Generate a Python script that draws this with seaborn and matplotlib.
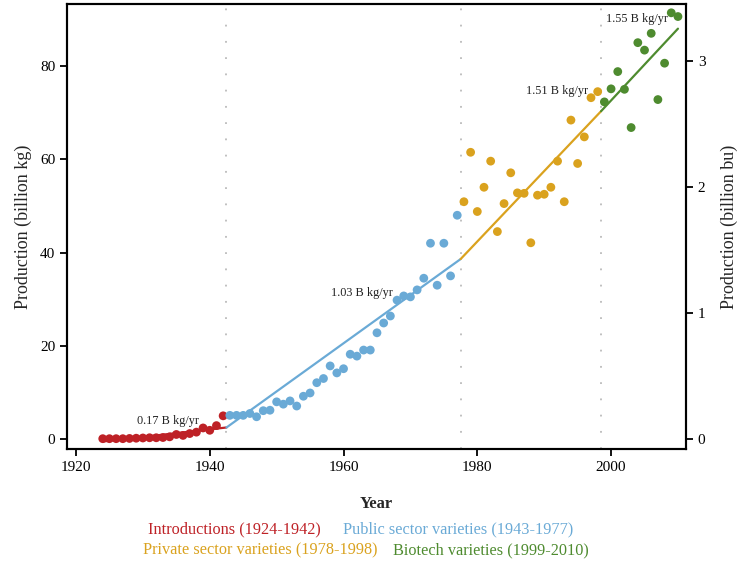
import numpy as np
import pandas as pd
import matplotlib
matplotlib.use("Agg")
import matplotlib.pyplot as plt
import seaborn as sns

# ---- data ----
intro_years = list(range(1924, 1943))
intro_values = [0.1, 0.1, 0.1, 0.1, 0.15, 0.2, 0.25, 0.3, 0.3, 0.35, 0.5, 1.0, 0.8, 1.2,
                1.5, 2.4, 1.9, 2.9, 5.0]

public_years = list(range(1943, 1978))
public_values = [5.1, 5.1, 5.1, 5.5, 4.8, 6.1, 6.2, 8.0, 7.5, 8.2, 7.1, 9.2, 9.9, 12.1,
                 13.0, 15.7, 14.2, 15.1, 18.2, 17.8, 19.1, 19.1, 22.8, 24.9, 26.4, 29.8,
                 30.7, 30.5, 32.0, 34.5, 42.0, 33.0, 42.0, 35.0, 48.0]

private_years = list(range(1978, 1999))
private_values = [50.9, 61.5, 48.8, 54.0, 59.6, 44.5, 50.5, 57.1, 52.8, 52.7, 42.1, 52.3,
                  52.5, 54.0, 59.6, 50.9, 68.4, 59.1, 64.8, 73.2, 74.5]

biotech_years = list(range(1999, 2011))
biotech_values = [72.3, 75.1, 78.8, 75.0, 66.8, 85.0, 83.4, 87.0, 72.8, 80.6, 91.4, 90.6]

period_names = ["Introductions (1924-1942)", "Public sector varieties (1943-1977)",
                "Private sector varieties (1978-1998)", "Biotech varieties (1999-2010)"]
period_colors = ["#BE2126", "#6AAAD6", "#DAA21E", "#4E8B2F"]

# segmented trend line (knots)
trend_knot_years = [1924, 1942.5, 1977.5, 1998.5, 2010]
trend_knot_values = [-0.5, 2.5, 38.6, 70.3, 88.0]
trend_labels = ["0.17 B kg/yr", "1.03 B kg/yr", "1.51 B kg/yr", "1.55 B kg/yr"]
trend_label_x = [1933.8, 1962.8, 1991.9, 2003.9]
trend_label_y = [3.9, 31.3, 74.6, 90.1]

period_breaks = [1942.5, 1977.5, 1998.5]
kg_per_bu = 27.0

# ---- build tables ----
pts = pd.concat([
    pd.DataFrame({"Year": y, "Production": v, "Period": n})
    for y, v, n in zip([intro_years, public_years, private_years, biotech_years],
                       [intro_values, public_values, private_values, biotech_values],
                       period_names)
], ignore_index=True)

trend_rows = []
for i, n in enumerate(period_names):
    trend_rows.append({"Year": trend_knot_years[i], "Production": trend_knot_values[i], "Period": n})
    trend_rows.append({"Year": trend_knot_years[i + 1], "Production": trend_knot_values[i + 1], "Period": n})
trend = pd.DataFrame(trend_rows)

# ---- style ----
sns.set_theme(style="ticks")
plt.rcParams["font.family"] = ["Liberation Serif", "DejaVu Serif"]
plt.rcParams["axes.linewidth"] = 1.5
plt.rcParams["xtick.major.width"] = 1.3
plt.rcParams["ytick.major.width"] = 1.3
plt.rcParams["xtick.major.size"] = 5
plt.rcParams["ytick.major.size"] = 5

fig = plt.figure(figsize=(7.4, 5.64), dpi=100)
ax = fig.add_axes([0.0905, 0.204, 0.8365, 0.789])

palette = dict(zip(period_names, period_colors))

for xb in period_breaks:
    ax.axvline(xb, color="#BBBBBB", linestyle=(0, (1, 8)), linewidth=1.3, zorder=0)

sns.lineplot(data=trend, x="Year", y="Production", hue="Period", palette=palette,
             linewidth=1.6, legend=False, ax=ax, zorder=2, estimator=None, sort=False)
sns.scatterplot(data=pts, x="Year", y="Production", hue="Period", palette=palette,
                s=40, linewidth=0, alpha=1, legend=False, ax=ax, zorder=3)

for t, xx, yy in zip(trend_labels, trend_label_x, trend_label_y):
    ax.text(xx, yy, t, fontsize=8.8, color="#222222", ha="center", va="center", zorder=4)

ax.set_xlim(1918.65, 2011.2)
ax.set_ylim(-2.1, 93.3)
ax.set_xticks([1920, 1940, 1960, 1980, 2000])
ax.set_yticks([0, 20, 40, 60, 80])
ax.tick_params(labelsize=11, colors="black", direction="out")
ax.set_xlabel("Year", fontsize=12, fontweight="bold", labelpad=16)
ax.set_ylabel("Production (billion kg)", fontsize=13, labelpad=6)
for s in ax.spines.values():
    s.set_color("black")

ax2 = ax.twinx()
ax2.set_ylim(-2.1 / kg_per_bu, 93.3 / kg_per_bu)
ax2.set_yticks([0, 1, 2, 3])
ax2.tick_params(labelsize=11, colors="black", direction="out")
ax2.set_ylabel("Production (billion bu)", fontsize=13, labelpad=11)
for s in ax2.spines.values():
    s.set_color("black")
    s.set_linewidth(1.5)

# colored legend text at bottom
leg_x = [148, 343, 143, 393]
leg_y = [529, 529, 550, 550]
for n, c, lx, ly in zip(period_names, period_colors, leg_x, leg_y):
    fig.text(lx / 740, 1 - ly / 564, n, color=c, fontsize=11.7, ha="left", va="center")

fig.savefig("out.png", dpi=100)
